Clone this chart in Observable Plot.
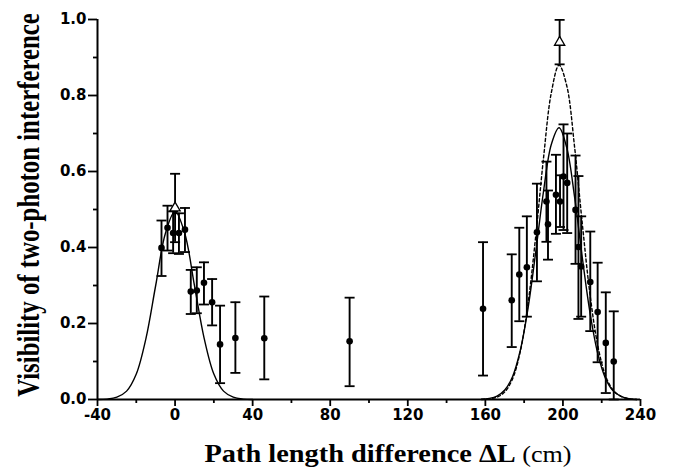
<!DOCTYPE html>
<html>
<head>
<meta charset="utf-8">
<script src="https://cdn.jsdelivr.net/npm/d3@7"></script>
<script src="https://cdn.jsdelivr.net/npm/@observablehq/plot@0.6"></script>
<style>
  html, body { margin: 0; padding: 0; background: #fff; }
  #chart { width: 678px; height: 470px; }
</style>
</head>
<body>
<div id="chart"></div>
<script>
// ---- measured points (filled circles) ----
const ptX  = [-7.0, -3.9, -1.0, 2.0, 5.1, 8.1, 11.2, 14.9, 19.1, 23.2, 31.1, 46.0, 90.0, 158.8,
              173.6, 177.5, 181.4, 186.6, 191.5, 192.3, 196.4, 198.5, 200.3, 202.2, 206.5, 208.0, 209.4, 214.1, 217.9, 222.1, 226.2];
const ptV  = [0.399, 0.452, 0.438, 0.438, 0.447, 0.284, 0.287, 0.307, 0.256, 0.145, 0.162, 0.161, 0.153, 0.239,
              0.261, 0.329, 0.348, 0.440, 0.521, 0.461, 0.539, 0.521, 0.587, 0.570, 0.499, 0.401, 0.350, 0.309, 0.230, 0.149, 0.100];
const ptLo = [0.325, 0.392, 0.385, 0.383, 0.388, 0.225, 0.227, 0.250, 0.195, 0.043, 0.070, 0.053, 0.035, 0.063,
              0.138, 0.206, 0.218, 0.311, 0.415, 0.368, 0.436, 0.454, 0.446, 0.438, 0.357, 0.212, 0.218, 0.180, 0.098, 0.017, 0.000];
const ptHi = [0.471, 0.510, 0.495, 0.490, 0.504, 0.341, 0.348, 0.361, 0.317, 0.247, 0.256, 0.271, 0.268, 0.414,
              0.382, 0.452, 0.482, 0.568, 0.626, 0.550, 0.644, 0.590, 0.724, 0.700, 0.642, 0.588, 0.482, 0.442, 0.360, 0.282, 0.232];

// ---- open triangles ----
const triX  = [0, 198.3];
const triV  = [0.504, 0.940];
const triLo = [0.414, 0.882];
const triHi = [0.594, 0.999];

// ---- fitted curves ----
const leftX  = [-40, -35, -30, -25, -20, -15, -10, -5, 0, 5, 10, 15, 20, 25, 30, 35, 40];
const leftV  = [0.000, 0.001, 0.006, 0.022, 0.067, 0.161, 0.300, 0.437, 0.495, 0.437, 0.300, 0.161, 0.067, 0.022, 0.006, 0.001, 0.000];
const rightX = [158, 162, 166, 170, 174, 178, 182, 186, 190, 194, 198, 202, 206, 210, 214, 218, 222, 226, 230, 234, 238];
const solidV = [0.001, 0.003, 0.009, 0.025, 0.060, 0.129, 0.240, 0.389, 0.548, 0.671, 0.715, 0.662, 0.533, 0.373, 0.227, 0.120, 0.055, 0.022, 0.008, 0.002, 0.000];
const dashV  = [0.000, 0.002, 0.006, 0.020, 0.054, 0.126, 0.252, 0.431, 0.636, 0.807, 0.880, 0.825, 0.665, 0.462, 0.275, 0.141, 0.062, 0.024, 0.008, 0.002, 0.000];

// ---- ticks and labels ----
const xTicks = [-40, 0, 40, 80, 120, 160, 200, 240];
const xMinor = [-20, 20, 60, 100, 140, 180, 220];
const yTicks = [0.0, 0.2, 0.4, 0.6, 0.8, 1.0];
const yMinor = [0.1, 0.3, 0.5, 0.7, 0.9];
const xLabelMain = "Path length difference ΔL";
const xLabelUnit = " (cm)";
const yLabel = "Visibility of two-photon interference";

const points = ptX.map((x, i) => ({x, v: ptV[i], lo: ptLo[i], hi: ptHi[i]}));
const tris = triX.map((x, i) => ({x, v: triV[i], lo: triLo[i], hi: triHi[i]}));
const leftCurve = leftX.map((x, i) => ({x, v: leftV[i]}));
const solidCurve = rightX.map((x, i) => ({x, v: solidV[i]}));
const dashCurve = rightX.map((x, i) => ({x, v: dashV[i]}));
const bars = points.concat(tris);

const capSymbol = {
  draw(context, size) {
    const r = Math.sqrt(size / Math.PI);
    context.moveTo(-r, 0);
    context.lineTo(r, 0);
  }
};

const tickFont = "'DejaVu Sans', sans-serif";

const plot = Plot.plot({
  width: 678,
  height: 470,
  marginLeft: 97,
  marginRight: 38,
  marginTop: 19,
  marginBottom: 71,
  style: {background: "#fff", fontFamily: tickFont, overflow: "visible"},
  x: {domain: [-40, 240], axis: null, label: null},
  y: {domain: [0, 1.0], axis: null, label: null},
  marks: [
    // curves
    Plot.line(leftCurve, {x: "x", y: "v", stroke: "#000", strokeWidth: 1.4, curve: "catmull-rom"}),
    Plot.line(solidCurve, {x: "x", y: "v", stroke: "#000", strokeWidth: 1.4, curve: "catmull-rom"}),
    Plot.line(dashCurve, {x: "x", y: "v", stroke: "#000", strokeWidth: 1.4, strokeDasharray: "3,2.5", curve: "catmull-rom"}),
    // error bars
    Plot.ruleX(bars, {x: "x", y1: "lo", y2: "hi", stroke: "#000", strokeWidth: 1.9}),
    Plot.dot(bars, {x: "x", y: "lo", symbol: capSymbol, r: 5, stroke: "#000", strokeWidth: 1.8, fill: "none"}),
    Plot.dot(bars, {x: "x", y: "hi", symbol: capSymbol, r: 5, stroke: "#000", strokeWidth: 1.8, fill: "none"}),
    // points
    Plot.dot(points, {x: "x", y: "v", r: 3.3, fill: "#000", stroke: "none"}),
    Plot.dot(tris, {x: "x", y: "v", symbol: "triangle", r: 3.8, fill: "#fff", stroke: "#000", strokeWidth: 1.3}),
    // axes
    Plot.axisX(xMinor, {tickSize: 4, strokeWidth: 1.8, text: null, label: null}),
    Plot.axisX(xTicks, {tickSize: 7, tickPadding: 3, strokeWidth: 1.8, tickFormat: d => String(d),
      fontSize: 15, fontWeight: "bold", fill: "#000", label: null}),
    Plot.axisY(yMinor, {tickSize: 4, strokeWidth: 1.8, text: null, label: null}),
    Plot.axisY(yTicks, {tickSize: 9, tickPadding: 2, strokeWidth: 1.8, tickFormat: d3.format(".1f"),
      fontSize: 15, fontWeight: "bold", fill: "#000", label: null}),
    Plot.ruleY([0], {stroke: "#000", strokeWidth: 2}),
    Plot.ruleX([-40], {stroke: "#000", strokeWidth: 2})
  ]
});

document.getElementById("chart").appendChild(plot);

const svg = d3.select(plot);
const serif = "'Liberation Serif', 'Times New Roman', serif";
const xt = svg.append("text")
  .attr("x", 388).attr("y", 462)
  .attr("text-anchor", "middle")
  .attr("font-family", serif)
  .attr("font-size", 25)
  .attr("textLength", 367)
  .attr("lengthAdjust", "spacingAndGlyphs")
  .attr("fill", "#000");
xt.append("tspan").attr("font-weight", "bold").text(xLabelMain);
xt.append("tspan").attr("font-weight", "normal").attr("font-size", 23).text(xLabelUnit);

svg.append("text")
  .attr("transform", "translate(39,205) scale(1.3,1) rotate(-90)")
  .attr("text-anchor", "middle")
  .attr("font-family", serif)
  .attr("font-size", 24.8)
  .attr("font-weight", "bold")
  .attr("fill", "#000")
  .text(yLabel);
</script>
</body>
</html>
